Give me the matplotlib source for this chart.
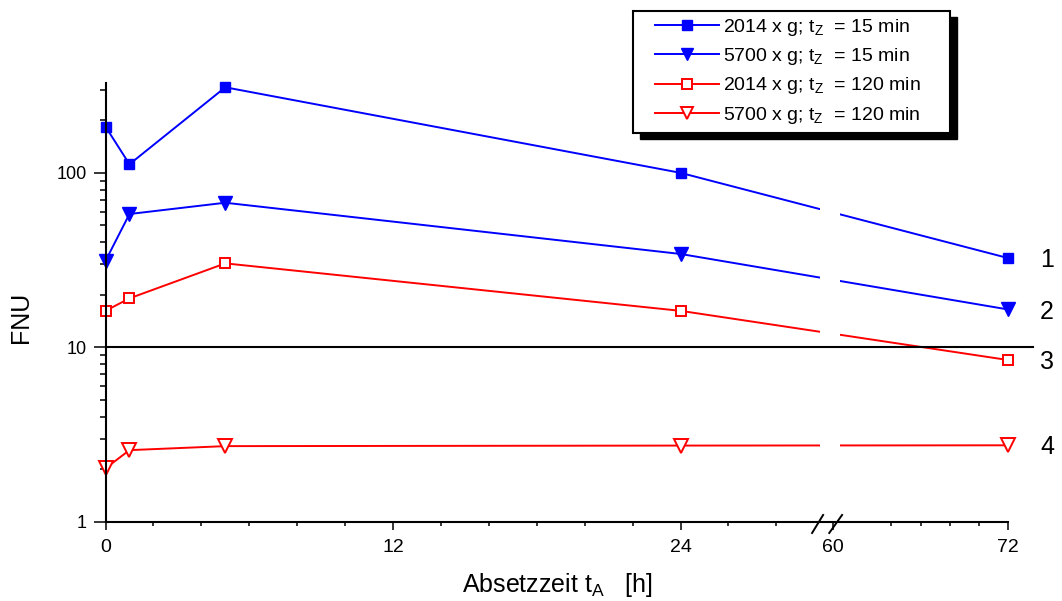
import numpy as np
import matplotlib
matplotlib.use('Agg')
import matplotlib.pyplot as plt
from matplotlib.ticker import FixedLocator, LogLocator, NullFormatter, FuncFormatter
from matplotlib.patches import Rectangle

plt.rcParams['font.family'] = ['Liberation Sans', 'DejaVu Sans']
plt.rcParams['mathtext.fontset'] = 'custom'
plt.rcParams['mathtext.rm'] = 'Liberation Sans'
plt.rcParams['mathtext.it'] = 'Liberation Sans'

# data
t_h = [0, 1, 5, 24, 72]
fnu_2014_15 = [184, 112, 309, 100, 32.5]
fnu_5700_15 = [31.3, 58.1, 67.4, 34.3, 16.5]
fnu_2014_120 = [16.2, 19.1, 30.3, 16.2, 8.47]
fnu_5700_120 = [2.03, 2.58, 2.72, 2.74, 2.75]
labels = ["2014 x g; t$_{\\mathrm{Z}}$  = 15 min",
          "5700 x g; t$_{\\mathrm{Z}}$  = 15 min",
          "2014 x g; t$_{\\mathrm{Z}}$  = 120 min",
          "5700 x g; t$_{\\mathrm{Z}}$  = 120 min"]
curve_ids = ["1", "2", "3", "4"]
xmajor = [0, 12, 24, 60, 72]
xminor = [2, 4, 6, 8, 10, 14, 16, 18, 20, 22, 26, 28, 64, 66, 68, 70]

# broken x axis: 0..30 h wide, 60..72 h compressed
brk_x = [-100, 0, 30, 59.6, 200]
brk_px = [-2396, 0, 718.8, 721.7, 727.5 + 14.58 * 140]


def fwd(x):
    return np.interp(x, brk_x, brk_px)


def inv(p):
    return np.interp(p, brk_px, brk_x)


W, H = 1062, 601
fig = plt.figure(figsize=(W / 100, H / 100), dpi=100)
ax = fig.add_axes([105.5 / W, 79 / H, 902.5 / W, 439 / H])
ax.set_xscale('function', functions=(fwd, inv))
ax.set_yscale('log')

blue = '#0000FF'
red = '#FF0000'
ms_sq = 7.7
ms_tri = 10.5
lines = []
lines += ax.plot(t_h, fnu_2014_15, '-s', color=blue, ms=ms_sq, lw=1.4, mec=blue, mfc=blue, zorder=2)
lines += ax.plot(t_h, fnu_5700_15, '-v', color=blue, ms=ms_tri, lw=1.4, mec=blue, mfc=blue, zorder=2)
lines += ax.plot(t_h, fnu_2014_120, '-s', color=red, ms=ms_sq, lw=1.4, mec=red, mfc='white', mew=1.4, zorder=2)
lines += ax.plot(t_h, fnu_5700_120, '-v', color=red, ms=ms_tri, lw=1.4, mec=red, mfc='white', mew=1.4, zorder=2)
for ln in lines:
    ln.set_clip_on(False)

# gap in the curves at the axis break
ax.axvspan(29.82, 60.47, color='white', zorder=2.2, lw=0)
# reference line at 10 FNU
ax.plot([0, 73.7], [10, 10], color='black', lw=1.5, zorder=3, clip_on=False)

for ids, vals in zip(curve_ids, [fnu_2014_15, fnu_5700_15, fnu_2014_120, fnu_5700_120]):
    ax.annotate(ids, xy=(t_h[-1], vals[-1]), xytext=(28, -1.5), textcoords='offset points',
                ha='center', va='center', fontsize=18, annotation_clip=False)

ax.set_xlim(0, 72)
ax.set_ylim(1, 327)

ax.xaxis.set_major_locator(FixedLocator(xmajor))
ax.xaxis.set_minor_locator(FixedLocator(xminor))
ax.xaxis.set_major_formatter(FuncFormatter(lambda v, p: "%d" % round(v)))
ax.xaxis.set_minor_formatter(NullFormatter())
ax.yaxis.set_major_locator(LogLocator(base=10, numticks=10))
ax.yaxis.set_minor_locator(LogLocator(base=10, subs=np.arange(2, 10), numticks=10))
ax.yaxis.set_major_formatter(FuncFormatter(lambda v, p: "%g" % v))
ax.yaxis.set_minor_formatter(NullFormatter())

ax.tick_params(axis='x', which='major', direction='out', length=6, width=1.1, labelsize=14, pad=6)
ax.tick_params(axis='x', which='minor', direction='out', length=3, width=1.1)
ax.tick_params(axis='y', which='major', direction='out', length=8.6, width=1.1, labelsize=13, pad=5)
ax.tick_params(axis='y', which='minor', direction='out', length=4.3, width=1.1)

for s in ['top', 'right']:
    ax.spines[s].set_visible(False)
for s in ['left', 'bottom']:
    ax.spines[s].set_linewidth(1.5)
    ax.spines[s].set_zorder(4)

# break marks
for x0, x1 in [(29.49, 29.95), (59.74, 60.62)]:
    ax.plot([x0, x1], [-0.025, 0.016], color='black', lw=1.4,
            transform=ax.get_xaxis_transform(), clip_on=False, zorder=5)

ax.set_xlabel("Absetzzeit t$_{\\mathrm{A}}$   [h]", fontsize=18)
ax.xaxis.set_label_coords(0.501, -0.112)
ax.set_ylabel("FNU", fontsize=18)
ax.yaxis.set_label_coords(-0.080, 0.465)

# legend box with shadow
bx0, by0, bx1, by1 = 632.7, 10.7, 950, 133
fig.patches.append(Rectangle((bx0 / W + 7 / W, 1 - (by1 + 6) / H), (bx1 - bx0) / W, (by1 - by0) / H,
                             transform=fig.transFigure, facecolor='black', edgecolor='black', zorder=9))
fig.patches.append(Rectangle((bx0 / W, 1 - by1 / H), (bx1 - bx0) / W, (by1 - by0) / H,
                             transform=fig.transFigure, facecolor='white', edgecolor='black', lw=1.5, zorder=10))
leg = fig.legend(lines, labels, loc='upper left', bbox_to_anchor=(655 / W, 1 - 17 / H),
                 frameon=False, borderpad=0, borderaxespad=0, fontsize=14,
                 handlelength=3.3, handletextpad=0.2, labelspacing=0.42, markerscale=0.85)
leg.set_zorder(12)

fig.savefig('out.png', dpi=100)
